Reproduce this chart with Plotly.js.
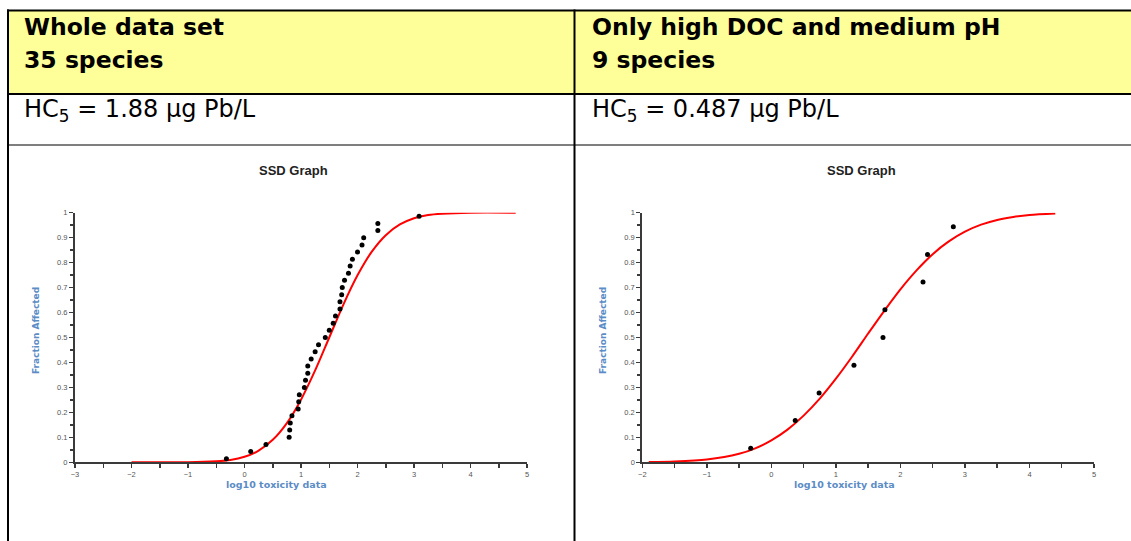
<!DOCTYPE html>
<html>
<head>
<meta charset="utf-8">
<script src="https://cdn.plot.ly/plotly-3.0.1.min.js"></script>
<style>
  html, body { margin: 0; padding: 0; background: #ffffff; }
  #chart { width: 1131px; height: 541px; }
</style>
</head>
<body>
<div id="chart"></div>
<script>
// ---------------- DATA ----------------
const headerTitles = ["Whole data set", "Only high DOC and medium pH"];
const speciesLabels = ["35 species", "9 species"];
const hc5Values = ["1.88", "0.487"];
const plotTitle = "SSD Graph";
const xAxisTitle = "log10 toxicity data";
const yAxisTitle = "Fraction Affected";

// Whole data set: observed points (log10 toxicity, fraction affected)
const wholeX = [-0.32, 0.11, 0.38, 0.79, 0.80, 0.81, 0.84, 0.95, 0.96, 0.97,
                1.06, 1.08, 1.12, 1.12, 1.18, 1.25, 1.31, 1.43, 1.50, 1.57,
                1.61, 1.69, 1.69, 1.72, 1.73, 1.77, 1.84, 1.87, 1.91, 2.00,
                2.08, 2.11, 2.36, 2.36, 3.09];
const wholeY = [0.014, 0.043, 0.071, 0.100, 0.129, 0.157, 0.186, 0.214, 0.243, 0.271,
                0.300, 0.329, 0.357, 0.386, 0.414, 0.443, 0.471, 0.500, 0.529, 0.557,
                0.586, 0.614, 0.643, 0.671, 0.700, 0.729, 0.757, 0.786, 0.814, 0.843,
                0.871, 0.900, 0.929, 0.957, 0.986];
// Whole data set: fitted curve
const wholeCurveX = [-2, -1.5, -1, -0.5, -0.25, 0, 0.25, 0.5, 0.75, 1, 1.25, 1.5,
                     1.75, 2, 2.25, 2.5, 2.75, 3, 3.25, 3.5, 4, 4.8];
const wholeCurveY = [0.000, 0.000, 0.000, 0.004, 0.009, 0.022, 0.047, 0.090, 0.157, 0.251, 0.368, 0.500,
                     0.632, 0.749, 0.843, 0.910, 0.953, 0.978, 0.991, 0.996, 1.000, 1.000];

// High DOC / medium pH: observed points
const subsetX = [-0.32, 0.37, 0.74, 1.28, 1.73, 1.76, 2.35, 2.42, 2.82];
const subsetY = [0.056, 0.167, 0.278, 0.389, 0.500, 0.611, 0.722, 0.833, 0.944];
// High DOC / medium pH: fitted curve
const subsetCurveX = [-1.9, -1.5, -1, -0.5, -0.25, 0, 0.25, 0.5, 0.75, 1, 1.25, 1.5,
                      1.75, 2, 2.25, 2.5, 2.75, 3, 3.25, 3.5, 3.75, 4, 4.4];
const subsetCurveY = [0.001, 0.003, 0.011, 0.034, 0.056, 0.088, 0.131, 0.187, 0.255, 0.335, 0.423, 0.516,
                      0.607, 0.693, 0.769, 0.834, 0.885, 0.924, 0.952, 0.971, 0.983, 0.991, 0.997];

// ---------------- LAYOUT HELPERS ----------------
const W = 1131, H = 541;
const fx = px => px / W;
const fy = py => 1 - py / H;

const lineCol = "#000000";
const axisCol = "#3a3a3a";
const titleBlue = "#5b8cc6";

function curveTrace(x, y, xa, ya) {
  return { x: x, y: y, xaxis: xa, yaxis: ya, type: "scatter", mode: "lines",
           line: { color: "#ff0000", width: 2, shape: "spline", smoothing: 0.8 },
           hoverinfo: "skip", showlegend: false };
}
function pointTrace(x, y, xa, ya) {
  return { x: x, y: y, xaxis: xa, yaxis: ya, type: "scatter", mode: "markers",
           marker: { color: "#000000", size: 5 }, showlegend: false };
}

const traces = [
  curveTrace(wholeCurveX, wholeCurveY, "x", "y"),
  pointTrace(wholeX, wholeY, "x", "y"),
  curveTrace(subsetCurveX, subsetCurveY, "x2", "y2"),
  pointTrace(subsetX, subsetY, "x2", "y2")
];

const tickFont = { family: "Liberation Sans, Arial, sans-serif", size: 7.5, color: "#555555" };
function xAxis(domain, range, anchor) {
  return {
    domain: domain, range: range, anchor: anchor,
    showline: true, linecolor: axisCol, linewidth: 2,
    showgrid: false, zeroline: false,
    ticks: "outside", ticklen: 4, tickwidth: 1.5, tickcolor: axisCol,
    dtick: 1, tick0: 0,
    minor: { dtick: 0.5, ticks: "outside", ticklen: 4, tickwidth: 1.5, tickcolor: axisCol, showgrid: false },
    tickfont: tickFont,
    fixedrange: true
  };
}
function yAxis(domain, anchor) {
  return {
    domain: domain, range: [0, 1], anchor: anchor,
    showline: true, linecolor: axisCol, linewidth: 2,
    showgrid: false, zeroline: false,
    ticks: "outside", ticklen: 4, tickwidth: 1.5, tickcolor: axisCol,
    dtick: 0.1, tick0: 0,
    minor: { dtick: 0.05, ticks: "outside", ticklen: 3, tickwidth: 1.5, tickcolor: axisCol, showgrid: false },
    tickfont: tickFont,
    fixedrange: true
  };
}

const yDom = [fy(462.3), fy(212.7)];

const shapes = [];
function hline(x0, x1, y, w) {
  shapes.push({ type: "line", xref: "paper", yref: "paper", x0: fx(x0), x1: fx(x1), y0: fy(y), y1: fy(y),
                line: { color: lineCol, width: w } });
}
function vline(x, y0, y1, w) {
  shapes.push({ type: "line", xref: "paper", yref: "paper", x0: fx(x), x1: fx(x), y0: fy(y0), y1: fy(y1),
                line: { color: lineCol, width: w } });
}
// yellow header band
shapes.push({ type: "rect", xref: "paper", yref: "paper", x0: fx(8), x1: fx(1131), y0: fy(94), y1: fy(10.5),
              fillcolor: "#ffff99", line: { width: 0 }, layer: "below" });
hline(7, 1131, 10.5, 2);
hline(7, 1131, 94, 2);
hline(7, 1131, 145, 1.2);
vline(8, 9.5, 541, 2);
vline(574.5, 9.5, 541, 2);

const hdrFont = { family: "DejaVu Sans, Verdana, sans-serif", size: 23.5, color: "#000000" };
const hcFont = { family: "DejaVu Sans, Verdana, sans-serif", size: 24, color: "#000000" };
const annotations = [];
function txt(text, x, y, font, xanchor, extra) {
  annotations.push(Object.assign({ text: text, xref: "paper", yref: "paper", x: fx(x), y: fy(y),
    xanchor: xanchor, yanchor: "middle", showarrow: false, font: font }, extra || {}));
}
const colX = [22, 590];
const titleCx = [293, 861];
const xTitleCx = [276, 844];
const yTitleCx = [36, 603];
for (let i = 0; i < 2; i++) {
  txt("<b>" + headerTitles[i] + "</b>", colX[i], 27, hdrFont, "left");
  txt("<b>" + speciesLabels[i] + "</b>", colX[i], 60, hdrFont, "left");
  txt("HC<sub>5</sub> = " + hc5Values[i] + " µg Pb/L", colX[i], 111, hcFont, "left");
  txt("<b>" + plotTitle + "</b>", titleCx[i], 170,
      { family: "Liberation Sans, Arial, sans-serif", size: 13, color: "#222222" }, "center");
  txt("<b>" + xAxisTitle + "</b>", xTitleCx[i], 484,
      { family: "DejaVu Sans, Verdana, sans-serif", size: 9.5, color: titleBlue }, "center");
  txt("<b>" + yAxisTitle + "</b>", yTitleCx[i], 331,
      { family: "DejaVu Sans, Verdana, sans-serif", size: 9, color: titleBlue }, "center", { textangle: -90 });
}

const layout = {
  width: W, height: H,
  margin: { l: 0, r: 0, t: 0, b: 0, pad: 0 },
  paper_bgcolor: "#ffffff", plot_bgcolor: "rgba(0,0,0,0)",
  showlegend: false,
  xaxis: xAxis([fx(75), fx(527)], [-3, 5], "y"),
  yaxis: yAxis(yDom, "x"),
  xaxis2: xAxis([fx(642.3), fx(1094)], [-2, 5], "y2"),
  yaxis2: yAxis(yDom, "x2"),
  shapes: shapes,
  annotations: annotations
};

Plotly.newPlot("chart", traces, layout, { displayModeBar: false, staticPlot: true });
</script>
</body>
</html>
